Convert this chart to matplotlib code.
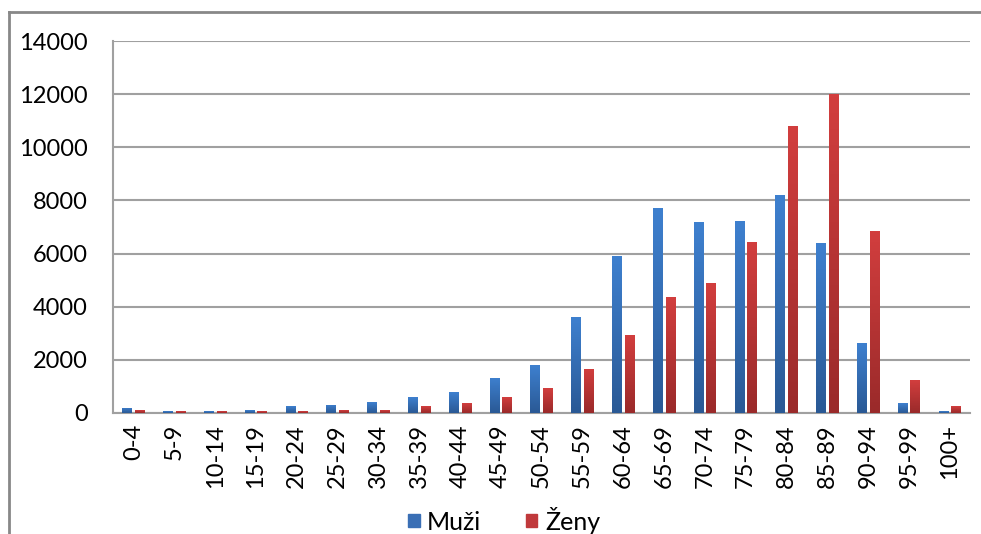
import numpy as np
import matplotlib.pyplot as plt
from matplotlib.colors import LinearSegmentedColormap
from matplotlib.lines import Line2D
from matplotlib.patches import Patch

plt.rcParams['font.family'] = ['Lato', 'DejaVu Sans']

categories = ['0-4', '5-9', '10-14', '15-19', '20-24', '25-29', '30-34', '35-39',
              '40-44', '45-49', '50-54', '55-59', '60-64', '65-69', '70-74', '75-79',
              '80-84', '85-89', '90-94', '95-99', '100+']
muzi = [200, 60, 60, 110, 260, 310, 400, 600, 790, 1330, 1800, 3600, 5920, 7710,
        7170, 7230, 8200, 6400, 2620, 360, 75]
zeny = [100, 60, 60, 60, 60, 110, 110, 260, 360, 600, 940, 1670, 2920, 4380,
        4910, 6450, 10820, 12000, 6840, 1230, 260]

blue_cmap = LinearSegmentedColormap.from_list('b', ['#2a5995', '#3e80cf'])
red_cmap = LinearSegmentedColormap.from_list('r', ['#9a2a2a', '#d23e3e'])

fig = plt.figure(figsize=(9.81, 5.34), dpi=100)
ax = fig.add_axes([0.1152, 0.2266, 0.8736, 0.6966])

x = np.arange(len(categories))
w = 0.23
off = 0.155
grad = np.linspace(0, 1, 100).reshape(-1, 1)


def gradient_bars(xs, vals, cmap, base):
    bars = ax.bar(xs, vals, width=w, color=base, zorder=2)
    for b in bars:
        x0, y0 = b.get_x(), b.get_y()
        im = ax.imshow(grad, cmap=cmap, origin='lower', aspect='auto',
                       extent=[x0, x0 + b.get_width(), y0, y0 + b.get_height()],
                       zorder=3)
        im.set_clip_path(b)


gradient_bars(x - off, muzi, blue_cmap, '#3468ad')
gradient_bars(x + off, zeny, red_cmap, '#bb3535')

ax.set_xlim(-0.5, len(categories) - 0.5)
ax.set_ylim(0, 14000)
ax.set_yticks(range(0, 14001, 2000))
ax.set_xticks(x)
ax.set_xticklabels(categories, rotation=90)
ax.tick_params(axis='both', length=0, labelsize=17)
ax.tick_params(axis='y', pad=18)
ax.tick_params(axis='x', pad=8)
ax.yaxis.grid(True, color='#a0a0a0', linewidth=1.5, zorder=0)
ax.set_axisbelow(True)
for s in ['top', 'right']:
    ax.spines[s].set_visible(False)
for s in ['left', 'bottom']:
    ax.spines[s].set_color('#a0a0a0')
    ax.spines[s].set_linewidth(1.5)

handles = [Patch(color='#3a6fb5'), Patch(color='#c0393b')]
fig.legend(handles, ['Muži', 'Ženy'], loc='center', bbox_to_anchor=(0.514, 0.026),
           ncol=2, frameon=False, fontsize=18, handlelength=0.45, handleheight=0.45,
           handletextpad=0.3, columnspacing=1.8)

# chart frame
fig.add_artist(Line2D([9 / 981, 1], [1 - 12 / 534, 1 - 12 / 534],
                      transform=fig.transFigure, color='#888888', linewidth=2))
fig.add_artist(Line2D([9 / 981, 9 / 981], [0, 1 - 12 / 534],
                      transform=fig.transFigure, color='#888888', linewidth=2))

fig.savefig('out.png', dpi=100)
